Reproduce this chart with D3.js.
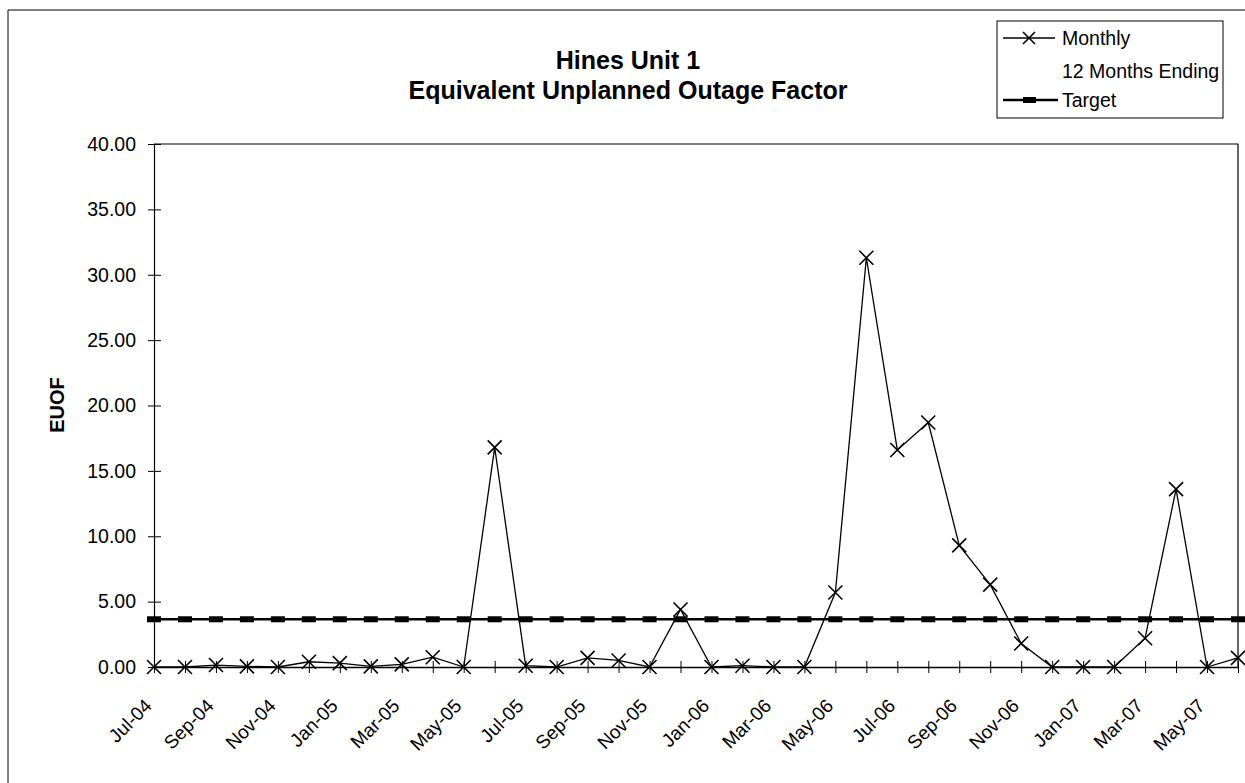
<html>
<meta charset="utf-8" />
<head>
<title>Hines Unit 1 - EUOF</title>
<script src="https://cdn.jsdelivr.net/npm/d3@7/dist/d3.min.js"></script>
<style>
	body { margin: 0; background: #fff; }
	text { font-family: "Liberation Sans", Arial, sans-serif; fill: #000; }
</style>
<script>

// months Jul-04 .. Jun-07
const months = ['Jul-04','Aug-04','Sep-04','Oct-04','Nov-04','Dec-04','Jan-05','Feb-05','Mar-05','Apr-05','May-05','Jun-05',
	'Jul-05','Aug-05','Sep-05','Oct-05','Nov-05','Dec-05','Jan-06','Feb-06','Mar-06','Apr-06','May-06','Jun-06',
	'Jul-06','Aug-06','Sep-06','Oct-06','Nov-06','Dec-06','Jan-07','Feb-07','Mar-07','Apr-07','May-07','Jun-07'];

// Monthly EUOF
const monthly = [0.0, 0.0, 0.15, 0.05, 0.0, 0.4, 0.3, 0.05, 0.2, 0.75, 0.0, 16.8,
	0.1, 0.0, 0.7, 0.5, 0.0, 4.4, 0.0, 0.1, 0.0, 0.0, 5.7, 31.3,
	16.6, 18.7, 9.3, 6.3, 1.8, 0.0, 0.0, 0.0, 2.2, 13.6, 0.0, 0.7];

// Target
const target = months.map(function() { return 3.65; });

const yTicks = [0, 5, 10, 15, 20, 25, 30, 35, 40];
const xLabels = months.filter(function(d, i) { return i % 2 == 0; });

const legendItems = ['Monthly', '12 Months Ending', 'Target'];

window.onload = function() {
	let svg = d3.select('svg');

	let left = 154, right = 1238, top = 144, bottom = 667;

	let x = d3.scalePoint().domain(months).range([left, right]);
	let y = d3.scaleLinear().domain([0, 40]).range([bottom, top]);

	// outer chart frame (left + top)
	svg.append('path').attr('d', 'M8,790 L8,10 L1250,10')
		.style('fill', 'none').style('stroke', '#000').style('stroke-width', '1px');

	// title
	svg.append('text').attr('x', 628).attr('y', 69).attr('text-anchor', 'middle')
		.style('font-size', '25px').style('font-weight', 'bold').text('Hines Unit 1');
	svg.append('text').attr('x', 628).attr('y', 99).attr('text-anchor', 'middle')
		.style('font-size', '25px').style('font-weight', 'bold').text('Equivalent Unplanned Outage Factor');

	// plot border top / right
	svg.append('path').attr('d', 'M' + left + ',' + top + ' L' + right + ',' + top + ' L' + right + ',' + bottom)
		.style('fill', 'none').style('stroke', '#000').style('stroke-width', '1.2px');

	// y axis
	let yAxis = d3.axisLeft(y).tickValues(yTicks).tickFormat(d3.format('.2f')).tickSizeInner(6).tickSizeOuter(0).tickPadding(12);
	let gy = svg.append('g').attr('transform', 'translate(' + left + ',0)').call(yAxis);
	gy.select('.domain').style('stroke-width', '1.2px');
	gy.selectAll('.tick line').attr('x1', -6).attr('x2', 7);
	gy.selectAll('text').style('font-size', '19.5px').style('font-family', '"Liberation Sans", Arial, sans-serif');

	svg.append('text').attr('transform', 'translate(64,405) rotate(-90)').attr('text-anchor', 'middle')
		.style('font-size', '20px').style('font-weight', 'bold').text('EUOF');

	// x axis
	let xAxis = d3.axisBottom(x).tickFormat('').tickSizeInner(6).tickSizeOuter(0);
	let gx = svg.append('g').attr('transform', 'translate(0,' + bottom + ')').call(xAxis);
	gx.select('.domain').style('stroke-width', '1.6px');
	gx.selectAll('.tick line').attr('y1', -6).attr('y2', 6);

	svg.selectAll('.xlab').data(xLabels).enter().append('text')
		.attr('class', 'xlab')
		.attr('text-anchor', 'end')
		.attr('transform', function(d) { return 'translate(' + (x(d) - 10.5) + ',' + 697.5 + ') rotate(-45)'; })
		.attr('dy', '0.71em')
		.style('font-size', '19px')
		.text(function(d) { return d; });

	// target line with dash markers
	let tLine = d3.line().x(function(d, i) { return x(months[i]); }).y(function(d) { return y(d); });
	svg.append('path').datum(target).attr('d', tLine)
		.style('fill', 'none').style('stroke', '#000').style('stroke-width', '2.5px');
	svg.selectAll('.tmark').data(target).enter().append('rect')
		.attr('class', 'tmark')
		.attr('x', function(d, i) { return x(months[i]) - 7; })
		.attr('y', function(d) { return y(d) - 3; })
		.attr('width', 14).attr('height', 6)
		.style('fill', '#000');

	// monthly series
	let mLine = d3.line().x(function(d, i) { return x(months[i]); }).y(function(d) { return y(d); });
	svg.append('path').datum(monthly).attr('d', mLine)
		.style('fill', 'none').style('stroke', '#000').style('stroke-width', '1.3px');
	svg.selectAll('.mmark').data(monthly).enter().append('path')
		.attr('class', 'mmark')
		.attr('d', function(d, i) {
			let cx = x(months[i]), cy = y(d), s = 7;
			return 'M' + (cx - s) + ',' + (cy - s) + 'L' + (cx + s) + ',' + (cy + s) +
				'M' + (cx - s) + ',' + (cy + s) + 'L' + (cx + s) + ',' + (cy - s);
		})
		.style('fill', 'none').style('stroke', '#000').style('stroke-width', '1.6px');

	// legend
	let lg = svg.append('g');
	lg.append('rect').attr('x', 997).attr('y', 21).attr('width', 226).attr('height', 97)
		.style('fill', '#fff').style('stroke', '#000').style('stroke-width', '1px');
	let rowY = [38, 71, 100];
	lg.selectAll('text').data(legendItems).enter().append('text')
		.attr('x', 1062).attr('y', function(d, i) { return rowY[i]; })
		.attr('dy', '0.35em').style('font-size', '19.5px')
		.text(function(d) { return d; });
	// Monthly sample
	lg.append('line').attr('x1', 1003).attr('x2', 1055).attr('y1', rowY[0]).attr('y2', rowY[0])
		.style('stroke', '#000').style('stroke-width', '1.3px');
	lg.append('path').attr('d', 'M1023,' + (rowY[0] - 6) + 'L1035,' + (rowY[0] + 6) + 'M1023,' + (rowY[0] + 6) + 'L1035,' + (rowY[0] - 6))
		.style('stroke', '#000').style('stroke-width', '1.6px');
	// Target sample
	lg.append('line').attr('x1', 1003).attr('x2', 1058).attr('y1', rowY[2]).attr('y2', rowY[2])
		.style('stroke', '#000').style('stroke-width', '2.5px');
	lg.append('rect').attr('x', 1023).attr('y', rowY[2] - 3).attr('width', 13).attr('height', 6).style('fill', '#000');
}

</script>
</head>
<body>
	<svg width="1245" height="783"></svg>
</body>
</html>
